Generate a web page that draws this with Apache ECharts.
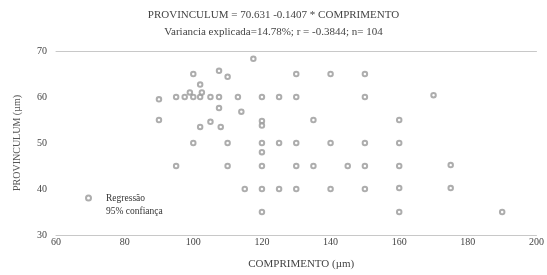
<!DOCTYPE html>
<html>
<head>
<meta charset="utf-8">
<script src="https://cdn.jsdelivr.net/npm/echarts@6/dist/echarts.min.js"></script>
<style>
html, body { margin: 0; padding: 0; background: #fff; }
#chart { width: 547px; height: 275px; }
</style>
</head>
<body>
<div id="chart"></div>
<script>
// pontos (COMPRIMENTO, PROVINCULUM)
var comprimento = [117.5, 100, 107.5, 110, 130, 140, 150, 102,
  90, 95, 97.5, 99, 100, 102, 102.5, 105, 107.5, 113, 120, 125, 130, 150, 170,
  107.5, 114,
  90, 102, 105, 108, 120, 120, 135, 160,
  100, 110, 120, 125, 130, 140, 150, 160,
  120,
  95, 110, 120, 130, 135, 145, 150, 160, 175,
  115, 120, 125, 130, 140, 150, 160, 175,
  120, 160, 190];
var provinculum = [68.3, 65, 65.7, 64.4, 65, 65, 65, 62.7,
  59.5, 60, 60, 61, 60, 60, 61, 60, 60, 60, 60, 60, 60, 60, 60.4,
  57.6, 56.8,
  55, 53.5, 54.6, 53.5, 54.8, 53.8, 55, 55,
  50, 50, 50, 50, 50, 50, 50, 50,
  48,
  45, 45, 45, 45, 45, 45, 45, 45, 45.2,
  40, 40, 40, 40, 40, 40, 40.2, 40.2,
  35, 35, 35];
var xTicks = [60, 200, 20];
var yTicks = [30, 70, 10];

var pontos = [];
for (var i in comprimento) {
  pontos.push([comprimento[i], provinculum[i]]);
}

var chart = echarts.init(document.getElementById('chart'));
var serif = 'Liberation Serif';

option = {
  animation: false,
  title: {
    text: 'PROVINCULUM = 70.631 -0.1407 * COMPRIMENTO',
    subtext: 'Variancia explicada=14.78%; r = -0.3844; n= 104',
    left: 'center',
    top: 5,
    padding: [5, 0, 5, 20],
    itemGap: 6,
    textStyle: { fontFamily: serif, fontSize: 11, fontWeight: 'normal', color: '#444' },
    subtextStyle: { fontFamily: serif, fontSize: 11, color: '#444' }
  },
  legend: {
    orient: 'vertical',
    left: 71,
    top: 188,
    itemWidth: 25,
    itemHeight: 5,
    itemGap: 3,
    textStyle: { fontFamily: serif, fontSize: 9.5, color: '#333' },
    data: [
      { name: 'Regressão', icon: 'emptyCircle' },
      { name: '95% confiança', icon: 'rect', itemStyle: { color: 'rgba(0,0,0,0)', borderWidth: 0 } }
    ]
  },
  grid: { left: 56, right: 8, top: 51, bottom: 35 },
  xAxis: [
    {
      type: 'value',
      min: xTicks[0], max: xTicks[1], interval: xTicks[2],
      name: 'COMPRIMENTO (µm)',
      nameLocation: 'middle',
      nameGap: 24,
      nameTextStyle: { fontFamily: serif, fontSize: 11, color: '#444', padding: [0, 0, 0, 10] },
      axisLine: { lineStyle: { color: '#c8c8c8' } },
      axisTick: { show: false },
      splitLine: { show: false },
      axisLabel: { fontFamily: serif, fontSize: 10, color: '#444', margin: 2 }
    },
    {
      type: 'value',
      position: 'top',
      min: xTicks[0], max: xTicks[1], interval: xTicks[2],
      axisLine: { lineStyle: { color: '#c8c8c8' } },
      axisTick: { show: false },
      axisLabel: { show: false },
      splitLine: { show: false }
    }
  ],
  yAxis: {
    type: 'value',
    min: yTicks[0], max: yTicks[1], interval: yTicks[2],
    name: 'PROVINCULUM (µm)',
    nameLocation: 'middle',
    nameGap: 34,
    nameTextStyle: { fontFamily: serif, fontSize: 10, color: '#555' },
    axisLine: { show: false },
    axisTick: { show: false },
    splitLine: { show: false },
    axisLabel: { fontFamily: serif, fontSize: 10, color: '#444', margin: 9 }
  },
  series: [
    {
      name: 'PROVINCULUM',
      type: 'scatter',
      symbol: 'emptyCircle',
      symbolSize: 4.5,
      itemStyle: { color: '#999', borderColor: '#999', borderWidth: 1 },
      data: pontos
    },
    {
      name: 'Regressão',
      type: 'scatter',
      symbol: 'emptyCircle',
      itemStyle: { color: '#999' },
      data: []
    },
    {
      name: '95% confiança',
      type: 'line',
      data: []
    }
  ]
};
chart.setOption(option);
</script>
</body>
</html>
